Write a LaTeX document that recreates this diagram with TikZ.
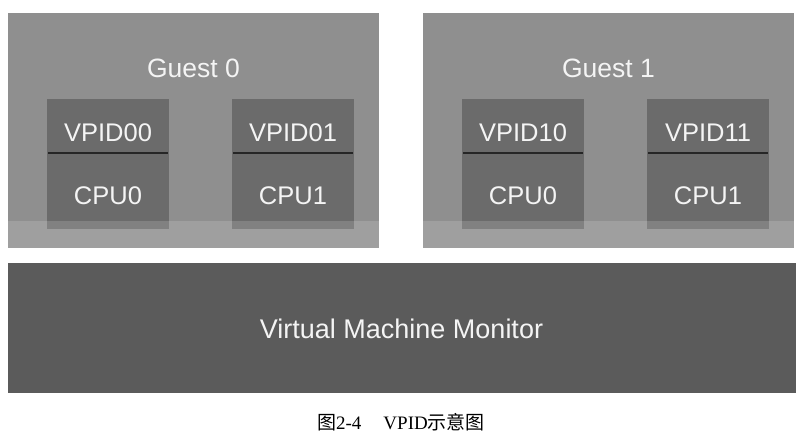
\documentclass[tikz,border=0pt]{standalone}
\usepackage{fontspec}
\setmainfont{Liberation Sans}
\newfontfamily\capserif{Liberation Serif}
\newfontfamily\cjk{Noto Sans CJK SC}
\definecolor{guestgray}{HTML}{8F8F8F}
\definecolor{bandgray}{HTML}{9C9C9C}
\definecolor{cpugray}{HTML}{6B6B6B}
\definecolor{vmmgray}{HTML}{5B5B5B}
\definecolor{labelwhite}{HTML}{F4F4F4}
\tikzset{
  guestbox/.style={fill=guestgray, draw=none},
  bandbox/.style={fill=white, fill opacity=0.15, draw=none},
  cpubox/.style={fill=cpugray, draw=none},
  divider/.style={draw=black!85, line width=2pt},
  lbl/.style={text=labelwhite, font=\fontsize{25.5}{29}\selectfont, inner sep=0pt, anchor=center},
  vmmbox/.style={fill=vmmgray, draw=none},
}
\begin{document}
\begin{tikzpicture}[x=1pt,y=-1pt]
\useasboundingbox (0,0) rectangle (803,444);
\fill[white] (0,0) rectangle (803,444);
% guests
\fill[guestbox] (8,13) rectangle (379,248);
\fill[guestbox] (423,13) rectangle (794,248);
% cpu boxes
\foreach \x/\n in {47/a,232/b,462/c,647/d}{
  \fill[cpubox] (\x,99) rectangle ++(122,130);
  \coordinate (\n l) at (\x+1,153);
  \coordinate (\n r) at (\x+121,153);
  \draw[divider] (\n l) -- (\n r);
}
% light band at bottom of guests
\fill[bandbox] (8,221) rectangle (379,248);
\fill[bandbox] (423,221) rectangle (794,248);
% labels
\node[lbl, font=\fontsize{26.5}{30}\selectfont] (g0) at (193.5,68) {Guest 0};
\node[lbl, font=\fontsize{26.5}{30}\selectfont] (g1) at (608.5,68) {Guest 1};
\node[lbl] (v00) at (108,132.5) {VPID00};
\node[lbl] (v01) at (293,132.5) {VPID01};
\node[lbl] (v10) at (523,132.5) {VPID10};
\node[lbl] (v11) at (708,132.5) {VPID11};
\node[lbl] (c00) at (108,196) {CPU0};
\node[lbl] (c01) at (293,196) {CPU1};
\node[lbl] (c10) at (523,196) {CPU0};
\node[lbl] (c11) at (708,196) {CPU1};
% VMM
\fill[vmmbox] (8,263) rectangle (796,393);
\node[lbl, font=\fontsize{27}{31}\selectfont] (vmm) at (401.5,328.5) {Virtual Machine Monitor};
% caption
\node[inner sep=0pt, anchor=center, font=\fontsize{19}{23}\selectfont] (cap) at (401,422)
  {{\cjk 图}{\capserif 2-4}\hspace{22pt}{\capserif VPID}{\cjk 示意图}};
\end{tikzpicture}
\end{document}
